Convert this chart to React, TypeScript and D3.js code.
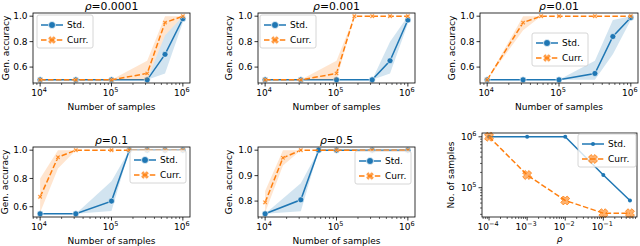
import React from 'react';
import * as d3 from 'd3';

// ---------- data ----------
const rhoLabels = ['0.0001', '0.001', '0.01', '0.1', '0.5'];
const seriesNames = ['Std.', 'Curr.'];

// panel ρ=0.0001
const p1StdX = [10000, 31623, 100000, 316228, 562341, 1000000];
const p1StdMean = [0.5, 0.5, 0.5, 0.5, 0.7, 0.98];
const p1StdLo = [0.5, 0.5, 0.5, 0.5, 0.55, 0.95];
const p1StdHi = [0.5, 0.5, 0.5, 0.5, 0.85, 1.0];
const p1CurrX = [10000, 31623, 100000, 316228, 562341, 1000000];
const p1CurrMean = [0.5, 0.5, 0.5, 0.55, 0.95, 1.0];
const p1CurrLo = [0.5, 0.5, 0.5, 0.5, 0.85, 1.0];
const p1CurrHi = [0.5, 0.5, 0.5, 0.65, 1.0, 1.0];

// panel ρ=0.001
const p2StdX = [10000, 31623, 100000, 316228, 562341, 1000000];
const p2StdMean = [0.5, 0.5, 0.5, 0.5, 0.65, 0.97];
const p2StdLo = [0.5, 0.5, 0.5, 0.5, 0.55, 0.94];
const p2StdHi = [0.5, 0.5, 0.5, 0.5, 0.8, 1.0];
const p2CurrX = [10000, 31623, 100000, 177828, 316228, 562341, 1000000];
const p2CurrMean = [0.5, 0.5, 0.55, 1.0, 1.0, 1.0, 1.0];
const p2CurrLo = [0.5, 0.5, 0.5, 1.0, 1.0, 1.0, 1.0];
const p2CurrHi = [0.5, 0.5, 0.65, 1.0, 1.0, 1.0, 1.0];

// panel ρ=0.01
const p3StdX = [10000, 31623, 100000, 316228, 562341, 1000000];
const p3StdMean = [0.5, 0.5, 0.5, 0.55, 0.84, 0.99];
const p3StdLo = [0.5, 0.5, 0.5, 0.5, 0.7, 0.97];
const p3StdHi = [0.5, 0.5, 0.5, 0.65, 0.97, 1.0];
const p3CurrX = [10000, 31623, 56234, 100000, 316228, 1000000];
const p3CurrMean = [0.5, 0.95, 1.0, 1.0, 1.0, 1.0];
const p3CurrLo = [0.5, 0.89, 1.0, 1.0, 1.0, 1.0];
const p3CurrHi = [0.5, 1.0, 1.0, 1.0, 1.0, 1.0];

// panel ρ=0.1
const p4StdX = [10000, 31623, 100000, 177828, 316228, 562341, 1000000];
const p4StdMean = [0.55, 0.55, 0.64, 1.0, 1.0, 1.0, 1.0];
const p4StdLo = [0.55, 0.55, 0.57, 1.0, 1.0, 1.0, 1.0];
const p4StdHi = [0.55, 0.55, 0.78, 1.0, 1.0, 1.0, 1.0];
const p4CurrX = [10000, 17783, 31623, 100000, 177828, 316228, 562341, 1000000];
const p4CurrMean = [0.67, 0.95, 1.0, 1.0, 1.0, 1.0, 1.0, 1.0];
const p4CurrLo = [0.56, 0.87, 1.0, 1.0, 1.0, 1.0, 1.0, 1.0];
const p4CurrHi = [0.8, 1.0, 1.0, 1.0, 1.0, 1.0, 1.0, 1.0];

// panel ρ=0.5
const p5StdX = [10000, 31623, 56234, 100000, 316228, 1000000];
const p5StdMean = [0.75, 0.805, 1.0, 1.0, 1.0, 1.0];
const p5StdLo = [0.75, 0.76, 1.0, 1.0, 1.0, 1.0];
const p5StdHi = [0.75, 0.87, 1.0, 1.0, 1.0, 1.0];
const p5CurrX = [10000, 17783, 31623, 100000, 316228, 1000000];
const p5CurrMean = [0.795, 0.97, 1.0, 1.0, 1.0, 1.0];
const p5CurrLo = [0.755, 0.94, 1.0, 1.0, 1.0, 1.0];
const p5CurrHi = [0.84, 1.0, 1.0, 1.0, 1.0, 1.0];

// summary panel
const rhoValues = [0.0001, 0.001, 0.01, 0.1, 0.5];
const stdSamplesNeeded = [1000000, 1000000, 1000000, 177828, 56234];
const currSamplesNeeded = [1000000, 177828, 56234, 31623, 31623];

const accTicksA = [0.6, 0.8, 1.0];
const accTicksB = [0.8, 0.9, 1.0];
const sampleTickExps = [4, 5, 6];
const rhoTickExps = [-4, -3, -2, -1];
const summaryYTickExps = [5, 6];

// ---------- style ----------
const BLUE = '#1f77b4';
const ORANGE = '#ff7f0e';
const FONT = 'DejaVu Sans, sans-serif';
const FS = 9;

type Band = { x: number[]; mean: number[]; lo: number[]; hi: number[] };

const panels = [
  { std: { x: p1StdX, mean: p1StdMean, lo: p1StdLo, hi: p1StdHi }, curr: { x: p1CurrX, mean: p1CurrMean, lo: p1CurrLo, hi: p1CurrHi }, ticks: accTicksA },
  { std: { x: p2StdX, mean: p2StdMean, lo: p2StdLo, hi: p2StdHi }, curr: { x: p2CurrX, mean: p2CurrMean, lo: p2CurrLo, hi: p2CurrHi }, ticks: accTicksA },
  { std: { x: p3StdX, mean: p3StdMean, lo: p3StdLo, hi: p3StdHi }, curr: { x: p3CurrX, mean: p3CurrMean, lo: p3CurrLo, hi: p3CurrHi }, ticks: accTicksA },
  { std: { x: p4StdX, mean: p4StdMean, lo: p4StdLo, hi: p4StdHi }, curr: { x: p4CurrX, mean: p4CurrMean, lo: p4CurrLo, hi: p4CurrHi }, ticks: accTicksA },
  { std: { x: p5StdX, mean: p5StdMean, lo: p5StdLo, hi: p5StdHi }, curr: { x: p5CurrX, mean: p5CurrMean, lo: p5CurrLo, hi: p5CurrHi }, ticks: accTicksB },
];

// frames [left, top, right, bottom] and legend top-left
const frames = [
  { f: [33, 13, 190, 83], lg: [37, 15], yl: 6 },
  { f: [258, 13, 415, 83], lg: [260, 15], yl: 229 },
  { f: [480, 13, 638, 83], lg: [532, 33], yl: 452 },
  { f: [33, 147, 190, 217], lg: [130, 150], yl: 5 },
  { f: [258, 147, 415, 217], lg: [355, 151], yl: 229 },
];
const summaryFrame = { f: [482, 133, 637, 217], lg: [578, 134], yl: 451 };

function linMargin(vals: number[]): [number, number] {
  const mn = d3.min(vals)!, mx = d3.max(vals)!;
  const r = mx - mn;
  return [mn - 0.05 * r, mx + 0.05 * r];
}
function logMargin(vals: number[]): [number, number] {
  const l = vals.map((v) => Math.log10(v));
  const mn = d3.min(l)!, mx = d3.max(l)!;
  const r = mx - mn;
  return [Math.pow(10, mn - 0.05 * r), Math.pow(10, mx + 0.05 * r)];
}
function minorTicks(domain: [number, number]): number[] {
  const out: number[] = [];
  const a = Math.floor(Math.log10(domain[0])), b = Math.ceil(Math.log10(domain[1]));
  for (let k = a; k <= b; k++) for (let m = 2; m <= 9; m++) {
    const v = m * Math.pow(10, k);
    if (v >= domain[0] && v <= domain[1]) out.push(v);
  }
  return out;
}

function xMarkerPath(cx: number, cy: number, a: number, w: number) {
  const pts = [[w, a], [w, w], [a, w], [a, -w], [w, -w], [w, -a], [-w, -a], [-w, -w], [-a, -w], [-a, w], [-w, w], [-w, a]];
  const c = Math.SQRT1_2;
  return 'M' + pts.map(([x, y]) => `${(cx + (x - y) * c).toFixed(2)},${(cy + (x + y) * c).toFixed(2)}`).join('L') + 'Z';
}

function Pow({ x, y, exp, anchor = 'middle' }: { x: number; y: number; exp: number; anchor?: string }) {
  const e = exp < 0 ? '\u2212' + Math.abs(exp) : String(exp);
  return (
    <text x={x} y={y} textAnchor={anchor as any} fontFamily={FONT} fontSize={FS}>
      <tspan>10</tspan>
      <tspan dy={-4} fontSize={6.5}>{e}</tspan>
    </text>
  );
}

function Legend({ x, y, summary }: { x: number; y: number; summary?: boolean }) {
  const w = summary ? 58 : 56, h = 33;
  const r1 = y + 10, r2 = y + 25;
  const l0 = x + 4, l1 = x + 26, mc = (l0 + l1) / 2;
  return (
    <g>
      <rect x={x} y={y} width={w} height={h} rx={2} fill="white" fillOpacity={0.8} stroke="#cccccc" strokeWidth={0.8} />
      <line x1={l0} x2={l1} y1={r1} y2={r1} stroke={BLUE} strokeWidth={1.5} />
      {summary ? <circle cx={mc} cy={r1} r={2} fill={BLUE} /> : <circle cx={mc} cy={r1} r={3.5} fill={BLUE} stroke="white" strokeWidth={0.7} />}
      <line x1={l0} x2={l1} y1={r2} y2={r2} stroke={ORANGE} strokeWidth={1.5} strokeDasharray="5.5,2.4" />
      {summary ? <path d={xMarkerPath(mc, r2, 4.5, 1.8)} fill={ORANGE} fillOpacity={0.6} stroke={ORANGE} strokeWidth={0.8} /> :
        <path d={xMarkerPath(mc, r2, 4.2, 1.7)} fill={ORANGE} fillOpacity={0.75} stroke="white" strokeWidth={0.7} />}
      <text x={l1 + 4} y={r1 + 3.2} fontFamily={FONT} fontSize={FS}>{seriesNames[0]}</text>
      <text x={l1 + 4} y={r2 + 3.2} fontFamily={FONT} fontSize={FS}>{seriesNames[1]}</text>
    </g>
  );
}

function AccPanel({ idx }: { idx: number }) {
  const p = panels[idx];
  const { f, lg, yl } = frames[idx];
  const [L, T, R, B] = f;
  const allX = [...p.std.x, ...p.curr.x];
  const allY = [...p.std.lo, ...p.std.hi, ...p.curr.lo, ...p.curr.hi, ...p.std.mean, ...p.curr.mean];
  const xd = logMargin(allX);
  const xs = d3.scaleLog().domain(xd).range([L, R]);
  const ys = d3.scaleLinear().domain(linMargin(allY)).range([B, T]);
  const line = d3.line<[number, number]>().x((d) => xs(d[0])).y((d) => ys(d[1]));
  const mkArea = (s: Band) =>
    d3.area<number>().x((i) => xs(s.x[i])).y0((i) => ys(s.lo[i])).y1((i) => ys(s.hi[i]))(d3.range(s.x.length)) || '';
  const mkLine = (s: Band) => line(s.x.map((v, i) => [v, s.mean[i]] as [number, number])) || '';
  const clip = `clip${idx}`;
  return (
    <g>
      <defs>
        <clipPath id={clip}><rect x={L} y={T} width={R - L} height={B - T} /></clipPath>
      </defs>
      <g clipPath={`url(#${clip})`}>
        <path d={mkArea(p.std)} fill={BLUE} fillOpacity={0.2} />
        <path d={mkLine(p.std)} fill="none" stroke={BLUE} strokeWidth={1.5} />
        {p.std.x.map((v, i) => (
          <circle key={'s' + i} cx={xs(v)} cy={ys(p.std.mean[i])} r={3} fill={BLUE} stroke="white" strokeWidth={0.6} />
        ))}
        <path d={mkArea(p.curr)} fill={ORANGE} fillOpacity={0.2} />
        <path d={mkLine(p.curr)} fill="none" stroke={ORANGE} strokeWidth={1.5} strokeDasharray="5.5,2.4" />
        {p.curr.x.map((v, i) => (
          <path key={'c' + i} d={xMarkerPath(xs(v), ys(p.curr.mean[i]), 2.6, 0.8)} fill={ORANGE} fillOpacity={0.8} stroke="white" strokeWidth={0.4} />
        ))}
      </g>
      <rect x={L} y={T} width={R - L} height={B - T} fill="none" stroke="black" strokeWidth={0.8} />
      {minorTicks(xd).map((v, i) => (
        <line key={'mx' + i} x1={xs(v)} x2={xs(v)} y1={B} y2={B + 2} stroke="black" strokeWidth={0.6} />
      ))}
      {sampleTickExps.map((e) => (
        <g key={'x' + e}>
          <line x1={xs(Math.pow(10, e))} x2={xs(Math.pow(10, e))} y1={B} y2={B + 3.5} stroke="black" strokeWidth={0.8} />
          <Pow x={xs(Math.pow(10, e)) - 1} y={B + 13} exp={e} />
        </g>
      ))}
      {p.ticks.map((t) => (
        <g key={'y' + t}>
          <line x1={L - 3.5} x2={L} y1={ys(t)} y2={ys(t)} stroke="black" strokeWidth={0.8} />
          <text x={L - 5.5} y={ys(t) + 3.3} textAnchor="end" fontFamily={FONT} fontSize={FS}>{t.toFixed(1)}</text>
        </g>
      ))}
      <text x={(L + R) / 2} y={B + 27} textAnchor="middle" fontFamily={FONT} fontSize={FS}>Number of samples</text>
      <text transform={`translate(${yl},${(T + B) / 2}) rotate(-90)`} textAnchor="middle" dominantBaseline="central" fontFamily={FONT} fontSize={FS}>Gen. accuracy</text>
      <text x={(L + R) / 2} y={T - 3.5} textAnchor="middle" fontFamily={FONT} fontSize={10.8}>
        <tspan fontStyle="italic">ρ</tspan>={rhoLabels[idx]}
      </text>
      <Legend x={lg[0]} y={lg[1]} />
    </g>
  );
}

function SummaryPanel() {
  const { f, lg, yl } = summaryFrame;
  const [L, T, R, B] = f;
  const xd = logMargin(rhoValues);
  const yd = logMargin([...stdSamplesNeeded, ...currSamplesNeeded]);
  const xs = d3.scaleLog().domain(xd).range([L, R]);
  const ys = d3.scaleLog().domain(yd).range([B, T]);
  const stdPath = d3.line<number>().x((i) => xs(rhoValues[i])).y((i) => ys(stdSamplesNeeded[i]))(d3.range(rhoValues.length)) || '';
  const currPath = d3.line<number>().x((i) => xs(rhoValues[i])).y((i) => ys(currSamplesNeeded[i]))(d3.range(rhoValues.length)) || '';
  return (
    <g>
      <path d={stdPath} fill="none" stroke={BLUE} strokeWidth={1.5} />
      {rhoValues.map((v, i) => <circle key={'s' + i} cx={xs(v)} cy={ys(stdSamplesNeeded[i])} r={2} fill={BLUE} />)}
      <path d={currPath} fill="none" stroke={ORANGE} strokeWidth={1.5} strokeDasharray="5.5,2.4" />
      {rhoValues.map((v, i) => (
        <path key={'c' + i} d={xMarkerPath(xs(v), ys(currSamplesNeeded[i]), 4.5, 1.8)} fill={ORANGE} fillOpacity={0.6} stroke={ORANGE} strokeWidth={0.8} />
      ))}
      <rect x={L} y={T} width={R - L} height={B - T} fill="none" stroke="black" strokeWidth={0.8} />
      {minorTicks(xd).map((v, i) => (
        <line key={'mx' + i} x1={xs(v)} x2={xs(v)} y1={B} y2={B + 2} stroke="black" strokeWidth={0.6} />
      ))}
      {minorTicks(yd).map((v, i) => (
        <line key={'my' + i} x1={L - 2} x2={L} y1={ys(v)} y2={ys(v)} stroke="black" strokeWidth={0.6} />
      ))}
      {rhoTickExps.map((e) => (
        <g key={'x' + e}>
          <line x1={xs(Math.pow(10, e))} x2={xs(Math.pow(10, e))} y1={B} y2={B + 3.5} stroke="black" strokeWidth={0.8} />
          <Pow x={xs(Math.pow(10, e)) - 1} y={B + 13} exp={e} />
        </g>
      ))}
      {summaryYTickExps.map((e) => (
        <g key={'y' + e}>
          <line x1={L - 3.5} x2={L} y1={ys(Math.pow(10, e))} y2={ys(Math.pow(10, e))} stroke="black" strokeWidth={0.8} />
          <Pow x={L - 5.5} y={ys(Math.pow(10, e)) + 3.3} exp={e} anchor="end" />
        </g>
      ))}
      <text x={(L + R) / 2} y={B + 25} textAnchor="middle" fontFamily={FONT} fontSize={FS} fontStyle="italic">ρ</text>
      <text transform={`translate(${yl},${(T + B) / 2}) rotate(-90)`} textAnchor="middle" dominantBaseline="central" fontFamily={FONT} fontSize={FS}>No. of samples</text>
      <Legend x={lg[0]} y={lg[1]} summary />
    </g>
  );
}

export default function App() {
  return (
    <svg width={640} height={246} style={{ position: 'absolute', left: 0, top: 0, background: 'white' }}>
      <rect width={640} height={246} fill="white" />
      {panels.map((_, i) => <AccPanel key={i} idx={i} />)}
      <SummaryPanel />
    </svg>
  );
}
